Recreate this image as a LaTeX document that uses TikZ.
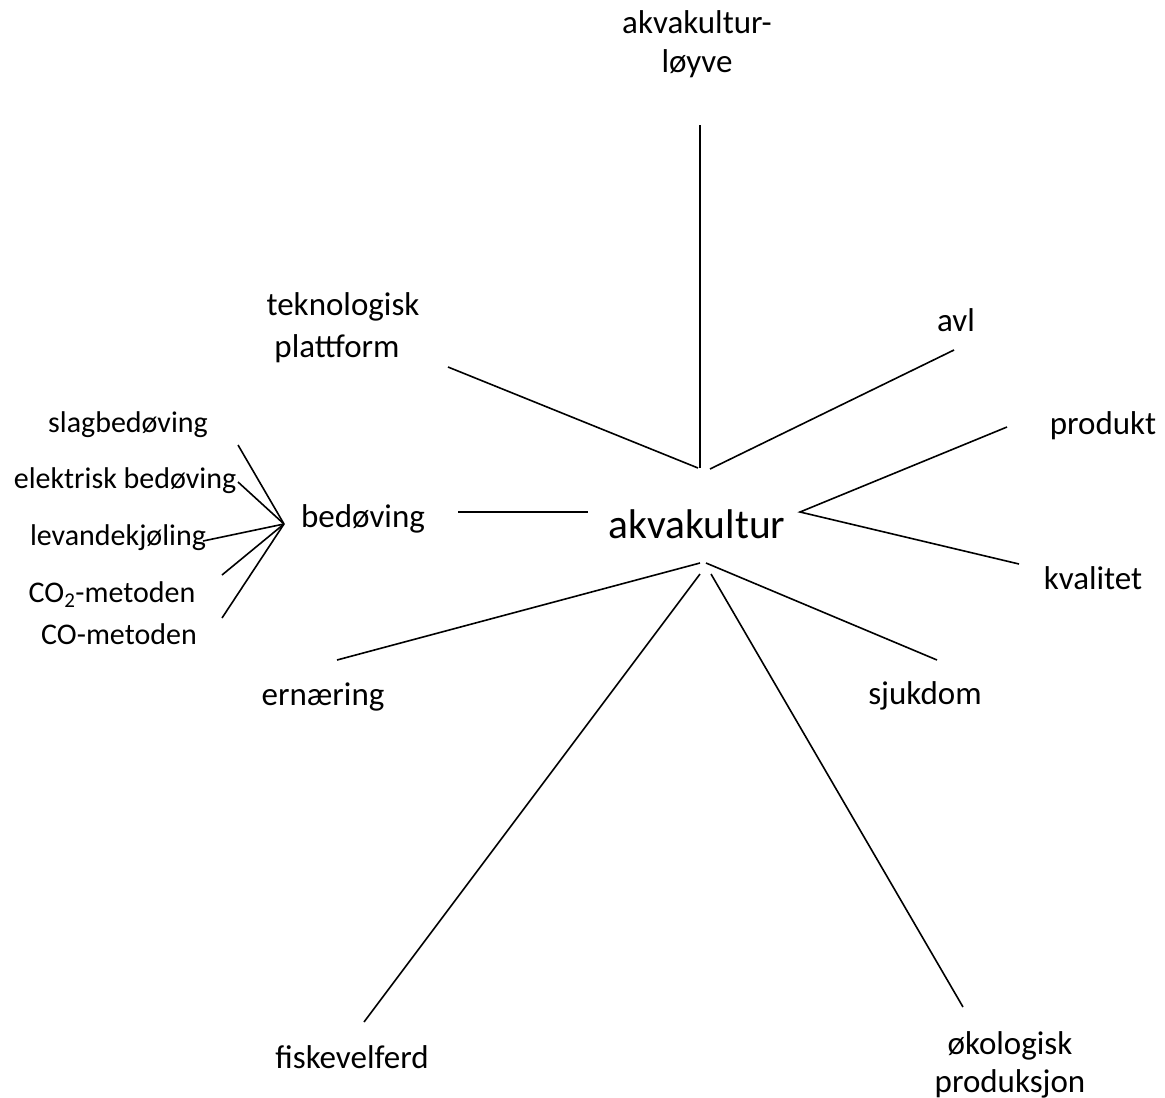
\documentclass[tikz,border=0pt]{standalone}
\usepackage{fontspec}
\setmainfont{Carlito}
\begin{document}
\begin{tikzpicture}[x=1pt,y=-1pt,
  lbl/.style={anchor=base,inner sep=0pt,font=\fontsize{33}{40}\selectfont},
  sml/.style={anchor=base,inner sep=0pt,font=\fontsize{30}{36}\selectfont},
  hub/.style={anchor=base,inner sep=0pt,font=\fontsize{41.5}{50}\selectfont},
  ln/.style={draw=black,line width=1.6pt}]
\useasboundingbox (0,0) rectangle (1165,1098);
% labels
\node[hub] (akv) at (697,538) {akvakultur};
\node[lbl] (lic1) at (697,33) {akvakultur-};
\node[lbl] (lic2) at (697,72) {løyve};
\node[lbl] (tek1) at (343,315) {teknologisk};
\node[lbl] (tek2) at (337,357) {plattform};
\node[lbl] (avl) at (956,331) {avl};
\node[lbl] (prod) at (1103,434) {produkt};
\node[lbl] (kval) at (1093,589) {kvalitet};
\node[lbl] (bed) at (363,527) {bedøving};
\node[lbl] (ern) at (323,705) {ernæring};
\node[lbl] (sjuk) at (925,704) {sjukdom};
\node[lbl] (fisk) at (352,1068) {fiskevelferd};
\node[lbl] (oko1) at (1010,1054) {økologisk};
\node[lbl] (oko2) at (1010,1092) {produksjon};
\node[sml] (slag) at (128,432) {slagbedøving};
\node[sml] (elek) at (125,488) {elektrisk bedøving};
\node[sml] (lev) at (118,545) {levandekjøling};
\node[sml] (co2) at (112,602) {CO\textsubscript{2}-metoden};
\node[sml] (co) at (119,644) {CO-metoden};
% connector end points
\coordinate (cTop) at (700,468);
\coordinate (cTek) at (698,468);
\coordinate (cAvl) at (710,469);
\coordinate (cR) at (800,512);
\coordinate (cErn) at (700,563);
\coordinate (cSju) at (706,563);
\coordinate (cFis) at (700,574);
\coordinate (cOko) at (711,574);
\coordinate (eLic) at (700,125);
\coordinate (eTek) at (448,367);
\coordinate (eAvl) at (954,350);
\coordinate (eProd) at (1007,427);
\coordinate (eKval) at (1019,564);
\coordinate (eBedL) at (458,512);
\coordinate (eBedR) at (588,512);
\coordinate (eErn) at (337,660);
\coordinate (eSju) at (937,660);
\coordinate (eFis) at (364,1022);
\coordinate (eOko) at (963,1007);
\coordinate (bHub) at (284,524);
\coordinate (eSlag) at (238,445);
\coordinate (eElek) at (238,482);
\coordinate (eLev) at (203,541);
\coordinate (eCo2) at (222,575);
\coordinate (eCo) at (222,618);
% connectors
\draw[ln] (eLic) -- (cTop);
\draw[ln] (eTek) -- (cTek);
\draw[ln] (eAvl) -- (cAvl);
\draw[ln] (eProd) -- (cR) -- (eKval);
\draw[ln] (eBedL) -- (eBedR);
\draw[ln] (eErn) -- (cErn);
\draw[ln] (eSju) -- (cSju);
\draw[ln] (eFis) -- (cFis);
\draw[ln] (eOko) -- (cOko);
\draw[ln] (eSlag) -- (bHub);
\draw[ln] (eElek) -- (bHub);
\draw[ln] (eLev) -- (bHub);
\draw[ln] (eCo2) -- (bHub);
\draw[ln] (eCo) -- (bHub);
\end{tikzpicture}
\end{document}
